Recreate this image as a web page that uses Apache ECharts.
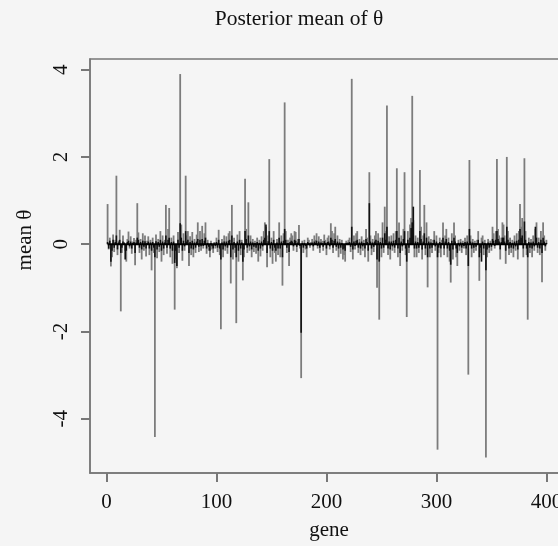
<!DOCTYPE html>
<html>
<head>
<meta charset="utf-8">
<script src="https://cdn.jsdelivr.net/npm/echarts@6/dist/echarts.min.js"></script>
<style>
html,body{margin:0;padding:0;background:#f5f5f5;}
#chart{width:558px;height:546px;}
</style>
</head>
<body>
<div id="chart"></div>
<script>
// Posterior mean of theta, method A (gray), genes 1..400
var grayValues = [
 0.92,-0.12,0.15,-0.51,-0.3,0.22,-0.18,0.1,1.57,-0.25,0.08,0.33,-1.54,-0.2,0.2,0.05,-0.15,-0.4,0.12,0.29,
 -0.1,0.18,-0.22,0.06,0.14,-0.48,0.1,0.94,0.27,-0.2,0.12,-0.35,0.25,-0.15,0.2,-0.28,0.08,0.18,-0.25,0.1,
 -0.6,0.15,-0.2,-4.42,0.22,-0.32,0.12,-0.18,0.3,-0.4,0.2,-0.25,0.1,0.9,-0.22,0.35,0.83,-0.3,0.15,-0.45,
 0.2,-1.5,-0.35,-0.55,0.28,-0.2,3.9,0.45,-0.38,0.25,-0.15,1.57,0.2,0.3,-0.5,0.18,-0.25,0.28,-0.3,0.12,
 -0.2,0.22,0.5,-0.18,0.3,-0.15,0.42,-0.1,0.25,0.5,-0.22,0.1,-0.15,-0.3,0.08,-0.12,-0.2,0.05,-0.1,0.15,
 -0.18,0.33,-0.25,-1.95,0.12,-0.3,0.2,-0.15,0.18,-0.22,0.25,0.3,-0.9,0.9,-0.35,0.15,-0.2,-1.81,0.22,-0.4,
 0.3,-0.25,0.1,-0.83,-0.3,1.5,0.35,-0.2,0.96,-0.15,0.2,-0.3,0.12,-0.18,0.08,-0.22,0.15,-0.4,0.1,-0.28,
 0.18,-0.15,0.3,0.5,0.4,-0.53,0.2,1.95,-0.3,0.15,-0.45,0.3,-0.2,-0.4,0.12,-0.25,0.5,-0.3,0.2,-0.95,
 0.25,3.25,0.3,-0.2,0.1,-0.5,0.15,0.25,0.2,-0.15,0.3,0.28,-0.18,0.12,0.44,-0.1,-3.07,0.08,-0.2,0.1,
 -0.12,-0.3,0.15,0.1,-0.08,0.05,0.12,-0.15,0.2,0.1,0.25,-0.1,0.18,-0.2,0.12,0.08,-0.15,0.22,0.1,-0.25,
 0.15,0.2,-0.12,0.48,0.3,-0.2,0.25,0.4,-0.15,0.2,-0.3,0.12,-0.22,0.1,-0.35,-0.25,-0.4,0.08,0.05,0.1,
 0.15,-0.18,3.79,-0.35,0.2,-0.12,0.25,0.3,-0.2,0.12,-0.25,0.18,-0.15,0.1,-0.3,0.35,0.15,-0.4,1.65,0.2,
 -0.25,0.12,-0.18,0.2,0.3,-1.0,0.25,-1.73,0.15,-0.3,0.5,-0.2,0.86,0.3,3.18,-0.25,0.18,-0.35,0.2,-0.15,
 0.25,-0.2,0.3,1.74,-0.3,0.5,-0.5,0.2,-0.15,0.35,1.65,-0.25,-1.67,0.3,-0.2,0.45,0.6,3.4,0.55,-0.3,
 0.2,-0.3,0.15,-0.2,1.7,0.4,-0.35,0.2,0.9,-0.25,0.5,-0.99,0.18,-0.3,0.12,-0.2,0.1,0.3,-0.15,0.2,
 -4.71,-0.2,0.15,-0.3,0.1,0.5,-0.25,0.2,0.35,-0.3,0.15,-0.4,-0.88,0.25,-0.35,0.5,0.2,-0.3,-0.5,0.1,
 -0.15,0.12,-0.2,0.08,-0.1,0.15,-0.25,0.2,-2.99,1.93,0.2,-0.3,0.12,-0.2,0.08,-0.15,0.1,0.3,-0.84,-0.2,
 0.15,0.2,-0.25,0.1,-4.89,-0.3,0.12,-0.2,0.08,-0.15,0.4,0.25,-0.1,0.3,1.95,0.35,0.2,-0.35,0.15,0.5,
 0.45,0.2,-0.45,2.0,0.3,-0.25,0.15,-0.2,0.1,-0.3,0.2,-0.15,0.25,-0.35,0.3,0.92,0.4,0.6,-0.3,1.97,
 0.3,-0.25,-1.73,0.15,-0.2,0.12,-0.3,0.2,-0.15,0.35,0.5,-0.2,0.15,-0.25,0.3,-0.87,0.5,0.2,-0.15,0.1
];
// Posterior mean of theta, method B (black), genes 1..400
var blackValues = [
 0.05,-0.1,0.08,-0.4,-0.15,0.1,-0.08,0.05,0.2,-0.12,0.04,0.1,-0.2,-0.08,0.06,0.03,-0.35,-0.15,0.05,0.08,
 -0.05,0.06,-0.1,0.03,0.05,-0.2,0.04,0.15,0.1,-0.08,0.05,-0.12,0.08,-0.06,0.07,-0.1,0.03,0.06,-0.1,0.04,
 -0.15,0.05,-0.08,-0.3,0.07,-0.12,0.05,-0.06,0.1,-0.15,0.06,-0.1,0.04,0.2,-0.08,0.1,0.15,-0.1,0.05,-0.15,
 0.06,-0.43,-0.15,-0.5,0.1,-0.08,0.48,0.15,-0.15,0.08,-0.05,0.3,0.06,0.1,-0.2,0.05,-0.1,0.08,-0.12,0.04,
 -0.08,0.06,0.12,-0.06,0.1,-0.05,0.12,-0.04,0.08,0.15,-0.1,0.03,-0.06,-0.15,0.03,-0.05,-0.1,0.02,-0.04,0.05,
 -0.08,0.1,-0.1,-0.35,0.04,-0.12,0.06,-0.05,0.06,-0.08,0.08,0.1,-0.3,0.2,-0.12,0.05,-0.08,-0.3,0.06,-0.15,
 0.1,-0.1,0.04,-0.4,-0.12,0.3,0.12,-0.08,0.2,-0.05,0.06,-0.12,0.04,-0.06,0.03,-0.08,0.05,-0.15,0.03,-0.1,
 0.06,-0.05,0.1,0.15,0.45,-0.2,0.07,0.3,-0.1,0.05,-0.15,0.1,-0.08,-0.15,0.04,-0.1,0.15,-0.1,0.06,-0.3,
 0.08,0.35,0.1,-0.08,0.03,-0.18,0.05,0.08,0.06,-0.05,0.1,0.08,-0.06,0.04,0.12,-0.04,-2.03,0.03,-0.08,0.03,
 -0.04,-0.1,0.05,0.03,-0.03,0.02,0.04,-0.05,0.06,0.03,0.08,-0.04,0.06,-0.08,0.04,0.03,-0.06,0.07,0.03,-0.1,
 0.05,0.06,-0.05,0.15,0.1,-0.08,0.08,0.12,-0.06,0.06,-0.1,0.04,-0.08,0.03,-0.12,-0.1,-0.15,0.03,0.02,0.03,
 0.05,-0.06,0.4,-0.12,0.06,-0.04,0.08,0.1,-0.08,0.04,-0.1,0.06,-0.05,0.03,-0.1,0.12,0.05,-0.15,0.94,0.06,
 -0.1,0.04,-0.06,0.06,0.1,-0.35,0.08,-0.4,0.05,-0.1,0.15,-0.08,0.25,0.1,0.4,-0.1,0.06,-0.12,0.06,-0.05,
 0.08,-0.08,0.1,0.3,-0.1,0.15,-0.2,0.06,-0.05,0.12,0.3,-0.1,-0.4,0.1,-0.08,0.15,0.37,0.5,0.86,-0.1,
 0.06,-0.1,0.05,-0.08,0.3,0.12,-0.12,0.06,0.25,-0.1,0.15,-0.3,0.06,-0.1,0.04,-0.08,0.03,0.1,-0.05,0.06,
 -0.3,-0.08,0.05,-0.1,0.03,0.15,-0.1,0.06,0.12,-0.1,0.05,-0.15,-0.47,0.08,-0.12,0.15,0.06,-0.1,-0.2,0.03,
 -0.05,0.04,-0.08,0.03,-0.04,0.05,-0.1,0.06,-0.5,0.35,0.06,-0.1,0.04,-0.08,0.03,-0.06,0.03,0.1,-0.3,-0.08,
 -0.4,0.06,-0.1,0.03,-0.6,-0.12,0.04,-0.08,0.03,-0.06,0.12,0.08,-0.04,0.1,0.3,0.12,0.06,-0.12,0.05,0.15,
 0.15,0.06,-0.15,0.4,0.1,-0.1,0.05,-0.08,0.03,-0.1,0.06,-0.05,0.08,-0.12,0.1,0.35,0.15,0.2,-0.1,0.52,
 0.1,-0.1,-0.3,0.05,-0.08,0.04,-0.1,0.06,-0.05,0.4,0.15,-0.08,0.05,-0.1,0.1,-0.2,0.15,0.06,-0.05,0.03
];
var xTicks = [0, 100, 200, 300, 400];
var yTicks = [-4, -2, 0, 2, 4];
var titleText = 'Posterior mean of θ';
var xName = 'gene';
var yName = 'mean θ';

var FONT = '"Liberation Serif", "DejaVu Serif", serif';
var TXT = '#111111';
var FRAME = '#777777';
var X_MIN = -15, X_MAX = 416, Y_MIN = -5.245, Y_MAX = 4.245;

function toPairs(vals) {
  return vals.map(function (v, i) { return [i + 1, v]; });
}
function hRender(color, width) {
  return function (params, api) {
    var x = api.value(0), y = api.value(1);
    var p0 = api.coord([x, 0]);
    var p1 = api.coord([x, y]);
    return {
      type: 'line',
      shape: { x1: p0[0], y1: p0[1], x2: p1[0], y2: p1[1] },
      style: { stroke: color, lineWidth: width }
    };
  };
}

var chart = echarts.init(document.getElementById('chart'), null, { renderer: 'canvas' });
chart.setOption({
  backgroundColor: '#f5f5f5',
  animation: false,
  grid: {
    left: 90, top: 59, width: 474, height: 414,
    outerBoundsMode: 'none',
    show: true, borderColor: FRAME, borderWidth: 1.5, backgroundColor: 'transparent'
  },
  xAxis: {
    type: 'value', min: X_MIN, max: X_MAX,
    axisLine: { show: true, onZero: false, lineStyle: { color: FRAME, width: 1.5 } },
    splitLine: { show: false },
    axisTick: { show: true, customValues: xTicks, length: 9, lineStyle: { color: FRAME, width: 2 } },
    axisLabel: { customValues: xTicks, margin: 19, color: TXT, fontFamily: FONT, fontSize: 21 }
  },
  yAxis: {
    type: 'value', min: Y_MIN, max: Y_MAX,
    axisLine: { show: true, onZero: false, lineStyle: { color: FRAME, width: 1.5 } },
    splitLine: { show: false },
    axisTick: { show: true, customValues: yTicks, length: 9, lineStyle: { color: FRAME, width: 2 } },
    axisLabel: { customValues: yTicks, rotate: 90, margin: 18, color: TXT, fontFamily: FONT, fontSize: 21 }
  },
  series: [
    { type: 'custom', name: 'gray', data: toPairs(grayValues), renderItem: hRender('#7c7c7c', 1.8), z: 2 },
    { type: 'custom', name: 'black', data: toPairs(blackValues), renderItem: hRender('#111111', 1.6), z: 3 },
    { type: 'line', name: 'zero', data: [[1, 0], [400, 0]], symbol: 'none', lineStyle: { color: '#000', width: 2 }, z: 4 }
  ]
});

chart.setOption({
  graphic: [
    { type: 'text', x: 299, y: 19, style: { text: titleText, font: '21.5px ' + FONT, fill: TXT, textAlign: 'center', textVerticalAlign: 'middle' } },
    { type: 'text', x: 329, y: 530, style: { text: xName, font: '21px ' + FONT, fill: TXT, textAlign: 'center', textVerticalAlign: 'middle' } },
    { type: 'text', x: 25, y: 240, rotation: Math.PI / 2, style: { text: yName, font: '21px ' + FONT, fill: TXT, textAlign: 'center', textVerticalAlign: 'middle' } }
  ]
});
</script>
</body>
</html>
